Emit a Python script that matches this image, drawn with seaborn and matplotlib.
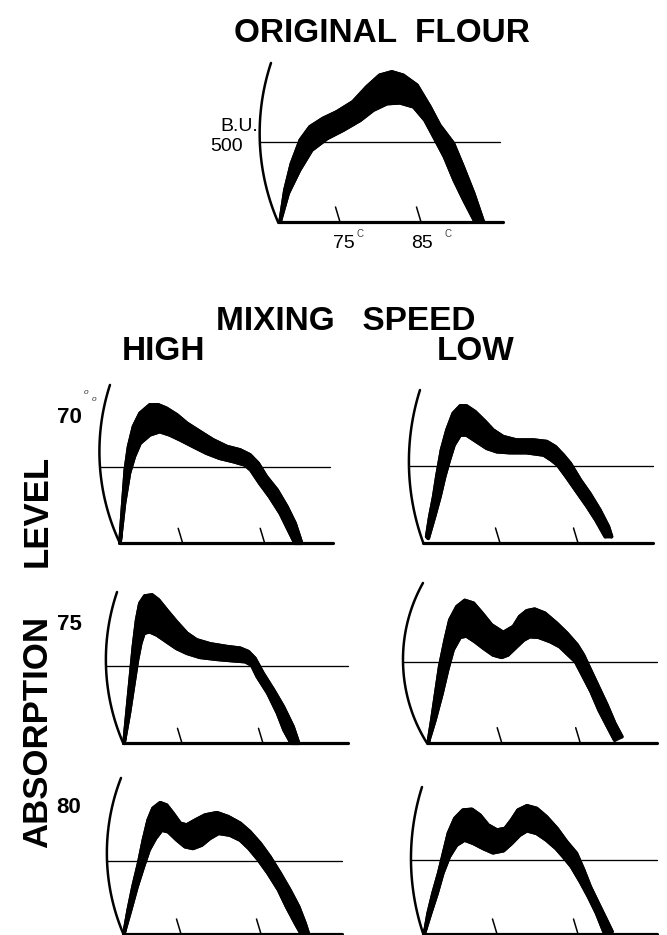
import numpy as np
import matplotlib
matplotlib.use("Agg")
import matplotlib.pyplot as plt
import seaborn as sns

# Viscosity bands: temperature (deg C) against Brabender units, upper and lower pen trace
ORIG_UP_T = [67.6, 68.2, 69.0, 70.1, 71.3, 72.9, 74.6, 76.6, 78.3, 79.9, 81.4, 82.8, 84.5, 86.1, 87.3, 89.0, 90.2, 91.5, 92.7]
ORIG_UP_BU = [0, 200, 364, 512, 595, 647, 688, 751, 844, 917, 938, 917, 855, 720, 605, 491, 345, 179, 0]
ORIG_LO_T = [67.6, 68.6, 70.0, 71.5, 73.4, 75.4, 77.5, 79.1, 80.8, 82.4, 84.1, 85.5, 86.6, 87.9, 89.1, 90.3, 91.7]
ORIG_LO_BU = [0, 179, 324, 449, 522, 574, 636, 699, 740, 745, 720, 636, 532, 408, 262, 137, 0]

H70_UP_T = [67.35, 67.7, 68.0, 68.4, 69.0, 69.8, 71.0, 72.0, 73.0, 74.3, 75.5, 77.1, 78.7, 80.4, 82.0, 83.2, 84.2, 85.2, 86.5, 87.7, 88.7, 89.5]
H70_UP_BU = [0, 262, 480, 632, 763, 850, 905, 905, 883, 839, 785, 730, 676, 632, 610, 578, 523, 436, 349, 240, 131, 0]
H70_LO_T = [67.35, 67.9, 68.5, 69.1, 69.8, 71.0, 72.2, 73.4, 74.7, 76.3, 77.9, 79.5, 81.2, 82.6, 83.3, 84.4, 85.6, 86.9, 87.9, 88.7]
H70_LO_BU = [0, 262, 458, 567, 654, 709, 730, 709, 676, 632, 589, 556, 534, 512, 480, 392, 305, 196, 87, 0]

L70_UP_T = [65.6, 66.0, 66.5, 66.9, 67.5, 68.2, 69.0, 69.9, 70.7, 71.8, 73.1, 74.1, 75.4, 77.1, 79.3, 81.0, 82.1, 83.1, 84.0, 85.3, 86.5, 87.8, 88.9, 89.3]
L70_UP_BU = [41, 170, 299, 428, 600, 729, 836, 884, 884, 847, 783, 729, 686, 664, 664, 654, 621, 568, 514, 406, 320, 213, 105, 41]
L70_LO_T = [65.8, 66.6, 67.3, 67.9, 68.5, 69.1, 69.9, 70.7, 72.0, 73.3, 74.6, 76.3, 78.4, 80.6, 81.6, 82.4, 83.5, 85.0, 86.2, 87.3, 88.5]
L70_LO_BU = [30, 170, 299, 428, 535, 632, 697, 697, 654, 611, 589, 583, 583, 568, 535, 503, 428, 320, 234, 148, 41]

H75_UP_T = [67.84, 68.2, 68.6, 69.0, 69.4, 69.8, 70.4, 71.3, 72.1, 73.1, 74.3, 75.6, 76.8, 78.5, 80.5, 82.2, 83.2, 84.0, 85.0, 86.3, 87.5, 88.7, 89.4]
H75_UP_BU = [0, 194, 409, 624, 796, 903, 950, 957, 925, 860, 785, 710, 667, 641, 624, 613, 591, 548, 452, 344, 237, 108, 0]
H75_LO_T = [67.84, 68.5, 69.0, 69.5, 69.9, 70.3, 71.0, 71.9, 73.1, 74.3, 75.6, 77.2, 79.3, 81.3, 82.8, 83.6, 84.3, 85.6, 86.8, 87.6, 88.5]
H75_LO_BU = [0, 194, 366, 538, 645, 710, 720, 699, 656, 613, 581, 555, 542, 533, 527, 505, 430, 323, 194, 86, 0]

L75_UP_T = [65.66, 66.1, 66.6, 67.1, 67.8, 68.4, 69.3, 70.3, 71.4, 72.5, 73.7, 75.2, 76.5, 77.3, 78.2, 79.2, 80.5, 82.0, 83.3, 84.6, 85.4, 86.3, 87.3, 88.4, 89.4, 90.3]
L75_UP_BU = [6, 140, 305, 470, 634, 758, 840, 878, 861, 799, 727, 680, 717, 779, 814, 824, 799, 737, 676, 604, 542, 449, 346, 233, 119, 37]
L75_LO_T = [65.66, 66.5, 67.4, 68.1, 68.8, 69.7, 70.5, 71.6, 72.7, 73.9, 75.0, 75.8, 76.9, 77.8, 78.6, 79.7, 81.2, 82.4, 83.5, 84.4, 85.3, 86.4, 87.4, 88.5, 89.4]
L75_LO_BU = [6, 140, 305, 449, 573, 651, 659, 624, 583, 542, 527, 542, 593, 634, 655, 651, 624, 593, 542, 501, 418, 315, 202, 99, 16]

H80_UP_T = [67.88, 68.4, 69.0, 69.7, 70.3, 70.9, 71.5, 72.4, 73.2, 74.0, 74.9, 75.7, 76.8, 78.0, 79.5, 80.9, 82.4, 83.6, 84.9, 86.1, 87.4, 88.6, 89.7, 90.5, 90.9]
H80_UP_BU = [5, 163, 322, 481, 640, 776, 856, 894, 878, 822, 754, 742, 776, 810, 826, 799, 754, 697, 617, 527, 413, 300, 186, 73, 5]
H80_LO_T = [67.88, 68.7, 69.5, 70.3, 71.0, 71.8, 72.6, 73.4, 74.5, 75.5, 76.5, 77.6, 78.6, 79.7, 81.1, 82.4, 83.5, 84.7, 85.9, 87.2, 88.2, 89.3, 90.0]
H80_LO_BU = [5, 163, 322, 459, 572, 651, 708, 697, 640, 595, 583, 606, 651, 686, 674, 640, 583, 504, 413, 300, 186, 73, 5]

L80_UP_T = [66.1, 66.5, 67.1, 67.8, 68.4, 69.0, 69.8, 70.8, 71.9, 72.9, 73.9, 75.0, 76.0, 76.8, 77.6, 78.7, 79.9, 81.1, 82.4, 83.6, 84.8, 85.7, 86.5, 87.5, 88.5, 89.2]
L80_UP_BU = [16, 140, 275, 410, 545, 680, 781, 837, 842, 803, 736, 702, 713, 770, 837, 866, 848, 792, 713, 623, 545, 432, 320, 207, 95, 16]
L80_LO_T = [66.1, 66.8, 67.6, 68.3, 69.1, 70.0, 71.0, 72.1, 73.3, 74.5, 75.8, 76.8, 77.8, 78.7, 79.9, 81.1, 82.3, 83.2, 84.2, 85.3, 86.3, 87.3, 88.2]
L80_LO_BU = [16, 140, 275, 410, 522, 601, 635, 612, 578, 549, 563, 612, 668, 698, 680, 635, 578, 522, 455, 353, 252, 140, 16]

TICK_TEMPS = [75, 85]
REF_BU = 500

W, H = 667, 935
sns.set_theme(style="white")
plt.rcParams["font.family"] = ["Liberation Sans", "DejaVu Sans"]

fig = plt.figure(figsize=(W / 100, H / 100), dpi=100, facecolor="white")


def add_panel(x75, ppd, y0, ppb):
    """Axes whose data units are deg C / B.U., placed by pixel anchor and scale."""
    t_lo, t_hi = 55.0, 100.0
    bu_lo, bu_hi = -40.0, 1200.0
    left = x75 + (t_lo - 75) * ppd
    right = x75 + (t_hi - 75) * ppd
    bottom = y0 - bu_lo * ppb
    top = y0 - bu_hi * ppb
    ax = fig.add_axes([left / W, 1 - bottom / H, (right - left) / W, (bottom - top) / H])
    ax.set_xlim(t_lo, t_hi)
    ax.set_ylim(bu_lo, bu_hi)
    ax.axis("off")
    return ax


def arc_points(p_top, p_mid, p_bot, ppd, ppb, n=80):
    pts = np.array([p_top, p_mid, p_bot], dtype=float)
    pts[:, 0] *= ppd
    pts[:, 1] *= ppb
    (ax_, ay), (bx, by), (cx, cy) = pts
    d = 2 * (ax_ * (by - cy) + bx * (cy - ay) + cx * (ay - by))
    ux = ((ax_**2 + ay**2) * (by - cy) + (bx**2 + by**2) * (cy - ay) + (cx**2 + cy**2) * (ay - by)) / d
    uy = ((ax_**2 + ay**2) * (cx - bx) + (bx**2 + by**2) * (ax_ - cx) + (cx**2 + cy**2) * (bx - ax_)) / d
    r = np.hypot(ax_ - ux, ay - uy)
    a1 = np.arctan2(ay - uy, ax_ - ux)
    a2 = np.arctan2(by - uy, bx - ux)
    a3 = np.arctan2(cy - uy, cx - ux)
    two_pi = 2 * np.pi
    if (a2 - a1) % two_pi < (a3 - a1) % two_pi:
        ang = np.linspace(a1, a1 + (a3 - a1) % two_pi, n)
    else:
        ang = np.linspace(a1, a1 - (a1 - a3) % two_pi, n)
    return (ux + r * np.cos(ang)) / ppd, (uy + r * np.sin(ang)) / ppb


def draw_frame(ax, spec):
    ppd, ppb = spec["ppd"], spec["ppb"]
    at, ab = arc_points(spec["arc_top"], spec["arc_mid"], (spec["t0"], 0), ppd, ppb)
    ax.plot(at, ab, color="black", lw=1.8, solid_capstyle="round", clip_on=False)
    ax.plot([spec["t0"], spec["t_end"]], [0, 0], color="black", lw=2.3,
            solid_capstyle="butt", clip_on=False)
    t_ref = np.interp(REF_BU, ab[::-1], at[::-1])
    ax.plot([t_ref, spec["ref_end"]], [REF_BU, REF_BU], color="black", lw=0.95, clip_on=False)
    for t in TICK_TEMPS:
        ax.plot([t - 4.5 / ppd, t], [15 / ppb, 0], color="black", lw=1.1, clip_on=False)


def draw_band(ax, ut, ub, lt, lb):
    xs = np.r_[ut, lt[::-1]]
    ys = np.r_[ub, lb[::-1]]
    ax.fill(xs, ys, facecolor="black", edgecolor="black", lw=2.6,
            joinstyle="round", clip_on=False)
    for x, y in ((ut, ub), (lt, lb)):
        sns.lineplot(x=x, y=y, sort=False, estimator=None, color="black",
                     lw=2.6, ax=ax, legend=False)
    for line in ax.lines:
        line.set_clip_on(False)
        line.set_solid_joinstyle("round")
        line.set_solid_capstyle("round")


panels = [
    dict(x75=340, ppd=8.1, y0=222, ppb=0.160, t0=67.35, t_end=95.1, ref_end=94.75,
         arc_top=(66.48, 994), arc_mid=(65.12, 481),
         band=(ORIG_UP_T, ORIG_UP_BU, ORIG_LO_T, ORIG_LO_BU)),
    dict(x75=182.7, ppd=8.2, y0=543.3, ppb=0.153, t0=67.35, t_end=93.3, ref_end=92.96,
         arc_top=(66.13, 1035), arc_mid=(64.91, 500),
         band=(H70_UP_T, H70_UP_BU, H70_LO_T, H70_LO_BU)),
    dict(x75=500, ppd=7.8, y0=543, ppb=0.155, t0=65.17, t_end=94.6, ref_end=94.6,
         arc_top=(64.74, 987), arc_mid=(63.33, 490),
         band=(L70_UP_T, L70_UP_BU, L70_LO_T, L70_LO_BU)),
    dict(x75=182, ppd=8.1, y0=743.3, ppb=0.155, t0=67.75, t_end=95.5, ref_end=95.5,
         arc_top=(66.98, 976), arc_mid=(65.62, 492),
         band=(H75_UP_T, H75_UP_BU, H75_LO_T, H75_LO_BU)),
    dict(x75=501.7, ppd=7.85, y0=742.7, ppb=0.162, t0=65.45, t_end=94.8, ref_end=94.8,
         arc_top=(64.97, 986), arc_mid=(62.43, 492),
         band=(L75_UP_T, L75_UP_BU, L75_LO_T, L75_LO_BU)),
    dict(x75=181, ppd=8.0, y0=934, ppb=0.1468, t0=67.8, t_end=95.1, ref_end=95.1,
         arc_top=(67.5, 1063), arc_mid=(65.75, 504),
         band=(H80_UP_T, H80_UP_BU, H80_LO_T, H80_LO_BU)),
    dict(x75=497, ppd=8.1, y0=934, ppb=0.148, t0=65.9, t_end=94.7, ref_end=94.7,
         arc_top=(65.74, 993), arc_mid=(64.38, 500),
         band=(L80_UP_T, L80_UP_BU, L80_LO_T, L80_LO_BU)),
]

for spec in panels:
    ax = add_panel(spec["x75"], spec["ppd"], spec["y0"], spec["ppb"])
    draw_frame(ax, spec)
    ut, ub, lt, lb = (np.asarray(a, dtype=float) for a in spec["band"])
    draw_band(ax, ut, ub, lt, lb)


def ftext(x, y, s, **kw):
    fig.text(x / W, 1 - y / H, s, **kw)


bold = dict(fontweight="bold", color="black")
ftext(382, 42, "ORIGINAL  FLOUR", ha="center", va="baseline", fontsize=24, **bold)
ftext(346, 330, "MIXING   SPEED", ha="center", va="baseline", fontsize=24, **bold)
ftext(164, 360, "HIGH", ha="center", va="baseline", fontsize=24, **bold)
ftext(476, 360, "LOW", ha="center", va="baseline", fontsize=24, **bold)
fig.text(47 / W, 1 - 732 / H, "ABSORPTION", rotation=90, rotation_mode="anchor",
         ha="center", va="baseline", fontsize=25, **bold)
fig.text(47 / W, 1 - 511 / H, "LEVEL", rotation=90, rotation_mode="anchor",
         ha="center", va="baseline", fontsize=25, **bold)

for label, yb in (("70", 423), ("75", 630), ("80", 813)):
    ftext(69, yb, label, ha="center", va="baseline", fontsize=16, **bold)
ftext(86, 394, "o", ha="center", va="baseline", fontsize=6, style="italic", color="#333333")
ftext(94, 401, "o", ha="center", va="baseline", fontsize=6, style="italic", color="#333333")

ftext(239, 131, "B.U.", ha="center", va="baseline", fontsize=14, color="black")
ftext(227, 151, "500", ha="center", va="baseline", fontsize=14, color="black")
ftext(344, 248, "75", ha="center", va="baseline", fontsize=14, color="black")
ftext(422, 248, "85", ha="center", va="baseline", fontsize=14, color="black")
ftext(360, 237, "C", ha="center", va="baseline", fontsize=7, color="#444444")
ftext(448, 237, "C", ha="center", va="baseline", fontsize=7, color="#444444")

fig.savefig("out.png", dpi=100, facecolor="white")
